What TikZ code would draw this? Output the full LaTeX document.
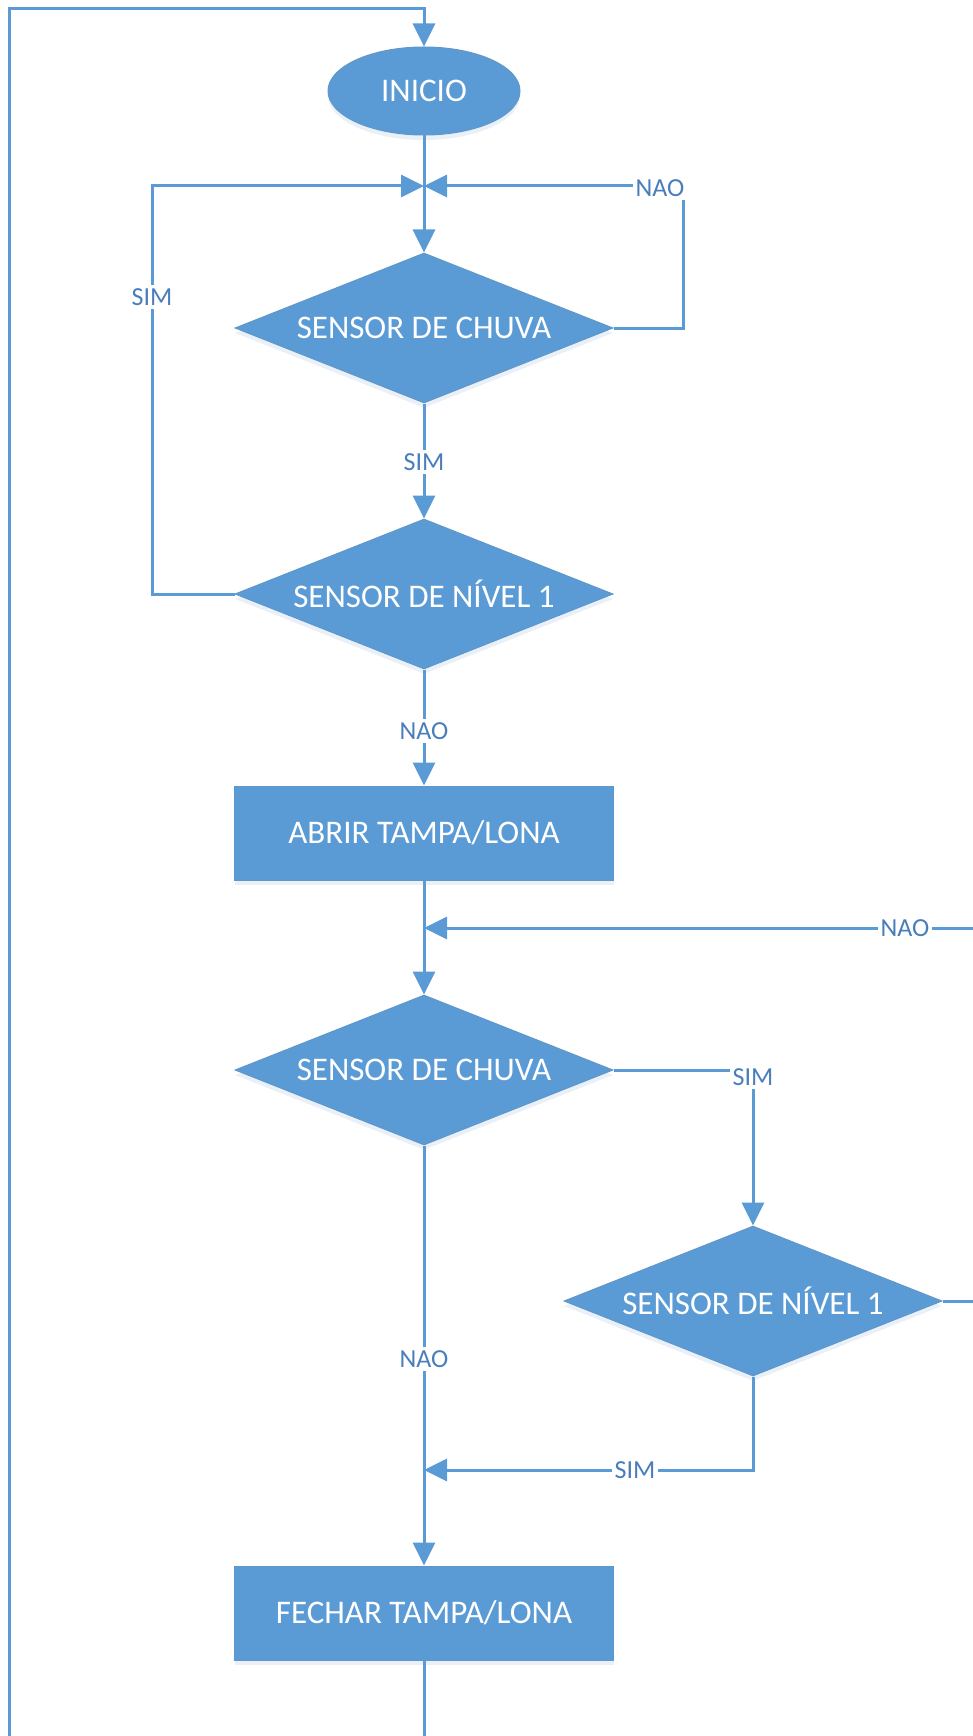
\documentclass[tikz,border=0pt]{standalone}
\usepackage{fontspec}
\setmainfont{Carlito}
\usetikzlibrary{shapes.geometric,arrows.meta,shadows}
\definecolor{fc}{HTML}{5B9BD5}
\definecolor{lc}{HTML}{5B9BD5}
\definecolor{tc}{HTML}{4A7EBB}
\definecolor{sc}{HTML}{A9C4E4}
\begin{document}
\begin{tikzpicture}[x=1pt,y=-1pt,
  base/.style={fill=fc, draw=fc!85!gray, line width=1pt, text=white,
    font=\fontsize{33}{40}\selectfont, inner sep=0pt,
    drop shadow={shadow xshift=0pt, shadow yshift=-5pt, opacity=0.25, fill=sc}},
  startbox/.style={base, ellipse, minimum width=192pt, minimum height=88pt},
  decbox/.style={base, diamond, aspect=2.5, minimum width=378pt, minimum height=150pt},
  procbox/.style={base, rectangle, minimum width=379pt, minimum height=94pt},
  conn/.style={draw=lc, line width=3pt},
  arr/.style={conn, -{Triangle[length=23pt,width=22pt]}},
  lbl/.style={fill=white, text=tc, font=\fontsize{26}{30}\selectfont, inner sep=3pt},
]
\useasboundingbox (0,0) rectangle (973,1736);
\clip (0,0) rectangle (973,1736);

% nodes
\node[startbox] (ini) at (424,91) {INICIO};
\node[decbox] (d1) at (424,328) {SENSOR DE CHUVA};
\node[decbox] (d2) at (424,594) {SENSOR DE NÍVEL 1};
\node[procbox] (ab) at (424,833) {ABRIR TAMPA/LONA};
\node[decbox] (d3) at (424,1070) {SENSOR DE CHUVA};
\node[decbox] (d4) at (753,1301) {SENSOR DE NÍVEL 1};
\node[procbox] (fe) at (424,1613) {FECHAR TAMPA/LONA};

% junctions and corners
\coordinate (j1) at (424,186);
\coordinate (j2) at (424,928);
\coordinate (j3) at (424,1470);
\coordinate (c1) at (683,186);
\coordinate (c2) at (152,186);
\coordinate (c3) at (1000,928);
\coordinate (c5) at (424,1760);
\coordinate (c6) at (9,9);

% connectors
\draw[arr] (ini.south) -- (d1.north);
\draw[arr] (d1.east) -| (c1) -- (j1);
\draw[arr] (d2.west) -| (c2) -- (j1);
\draw[arr] (d1.south) -- (d2.north);
\draw[arr] (d2.south) -- (ab.north);
\draw[arr] (ab.south) -- (d3.north);
\draw[arr] (d4.east) -| (c3) -- (j2);
\draw[arr] (d3.east) -| (d4.north);
\draw[arr] (d4.south) |- (j3);
\draw[arr] (d3.south) -- (fe.north);
\draw[arr] (fe.south) -- (c5) -| (c6) -| (ini.north);

% labels
\node[lbl] (l1) at (660,188) {NAO};
\node[lbl] (l2) at (152,297) {SIM};
\node[lbl] (l3) at (424,462) {SIM};
\node[lbl] (l4) at (424,731) {NAO};
\node[lbl] (l5) at (905,928) {NAO};
\node[lbl] (l6) at (753,1077) {SIM};
\node[lbl] (l7) at (424,1359) {NAO};
\node[lbl] (l8) at (635,1470) {SIM};
\end{tikzpicture}
\end{document}
